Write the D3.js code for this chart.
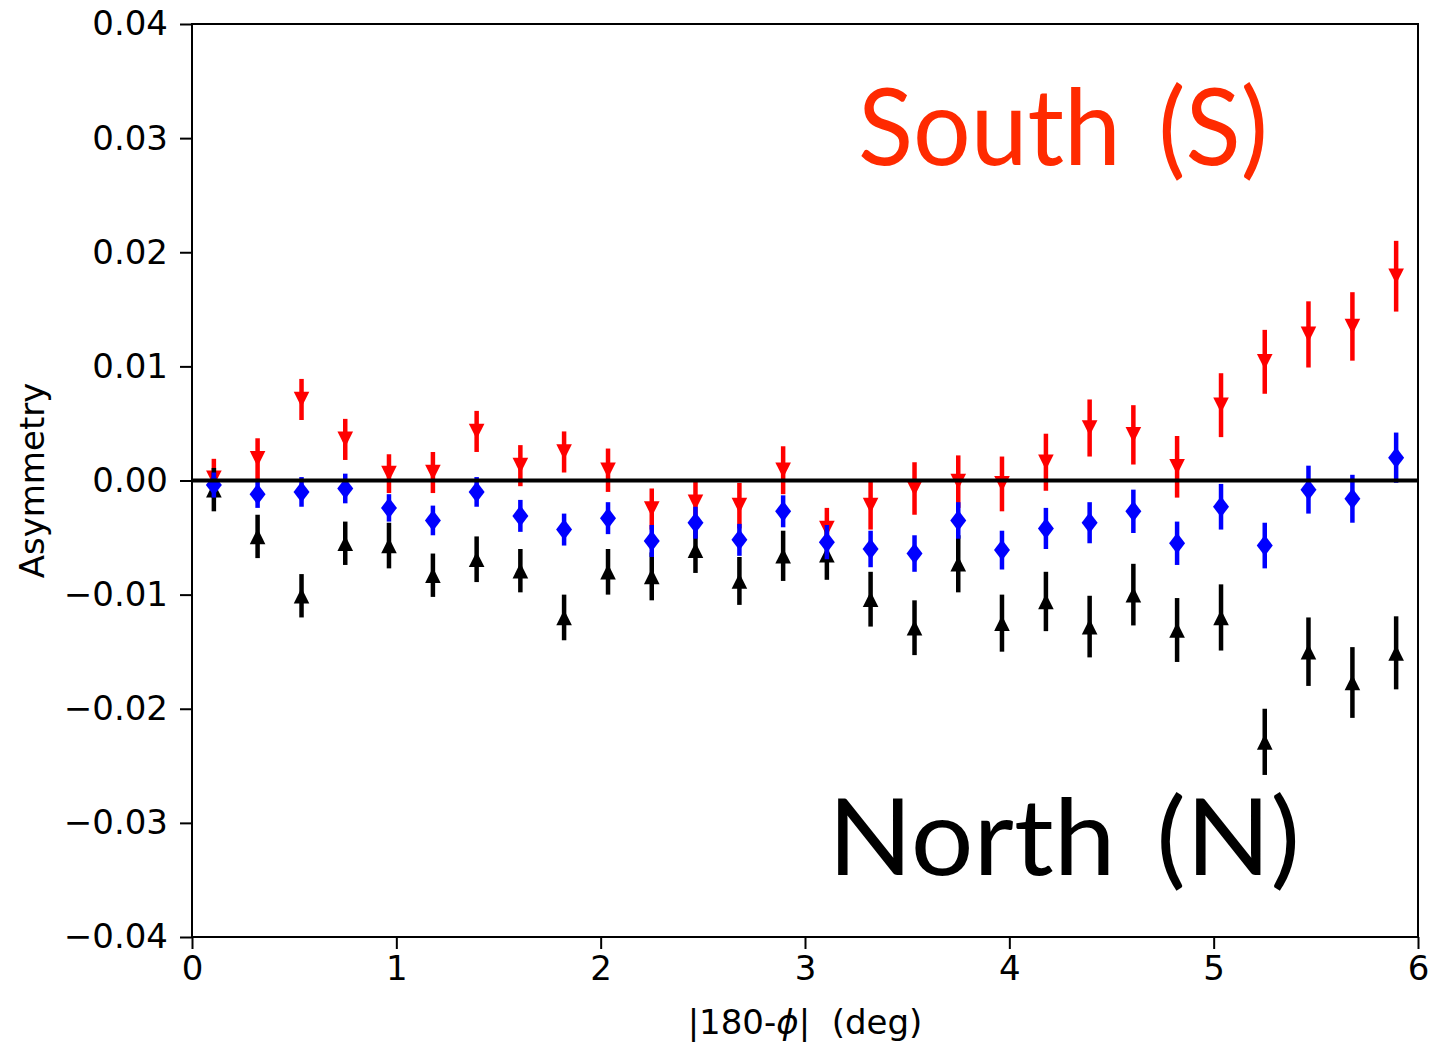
<!DOCTYPE html>
<html>
<head>
<meta charset="utf-8">
<script src="https://cdn.jsdelivr.net/npm/d3@7"></script>
<style>
  body { margin: 0; background: #fff; }
  svg { display: block; }
</style>
</head>
<body>
<div class="chart"></div>
<script>
// bin centres |180-phi| (deg)
var xValues = [0.107, 0.321, 0.536, 0.750, 0.964, 1.179, 1.393, 1.607, 1.821, 2.036,
  2.250, 2.464, 2.679, 2.893, 3.107, 3.321, 3.536, 3.750, 3.964, 4.179,
  4.393, 4.607, 4.821, 5.036, 5.250, 5.464, 5.679, 5.893];

// South (red, down triangles)
var southValues = [0.0002, 0.0019, 0.0071, 0.0036, 0.0006, 0.0007, 0.0043, 0.0013, 0.0025, 0.0009,
  -0.0025, -0.0019, -0.0022, 0.0009, -0.0042, -0.0022, -0.0007, -0.0001, -0.0003, 0.0016,
  0.0046, 0.0040, 0.0012, 0.0066, 0.0104, 0.0128, 0.0135, 0.0179];
var southErrors = [0.0017, 0.0018, 0.0018, 0.0018, 0.0017, 0.0018, 0.0018, 0.0018, 0.0018, 0.0019,
  0.0018, 0.0019, 0.0020, 0.0021, 0.0018, 0.0021, 0.0023, 0.0023, 0.0024, 0.0025,
  0.0025, 0.0026, 0.0027, 0.0028, 0.0028, 0.0029, 0.0030, 0.0031];

// North (black, up triangles)
var northValues = [-0.0008, -0.0049, -0.0101, -0.0055, -0.0057, -0.0083, -0.0069, -0.0079, -0.0120, -0.0080,
  -0.0084, -0.0061, -0.0088, -0.0066, -0.0065, -0.0104, -0.0129, -0.0073, -0.0125, -0.0106,
  -0.0128, -0.0100, -0.0131, -0.0120, -0.0229, -0.0150, -0.0177, -0.0151];
var northErrors = [0.0019, 0.0019, 0.0019, 0.0019, 0.0020, 0.0019, 0.0020, 0.0019, 0.0020, 0.0020,
  0.0021, 0.0020, 0.0021, 0.0022, 0.0022, 0.0024, 0.0024, 0.0025, 0.0025, 0.0026,
  0.0027, 0.0027, 0.0028, 0.0029, 0.0029, 0.0030, 0.0031, 0.0032];

// combined (blue diamonds)
var blueValues = [-0.0004, -0.0012, -0.0010, -0.0007, -0.0024, -0.0035, -0.0010, -0.0031, -0.0043, -0.0033,
  -0.0053, -0.0037, -0.0052, -0.0027, -0.0054, -0.0060, -0.0064, -0.0035, -0.0061, -0.0042,
  -0.0037, -0.0027, -0.0055, -0.0023, -0.0057, -0.0008, -0.0016, 0.0020];
var blueErrors = [0.0011, 0.0012, 0.0013, 0.0013, 0.0012, 0.0013, 0.0013, 0.0014, 0.0014, 0.0014,
  0.0014, 0.0014, 0.0014, 0.0014, 0.0015, 0.0016, 0.0016, 0.0016, 0.0017, 0.0018,
  0.0018, 0.0019, 0.0019, 0.0020, 0.0020, 0.0021, 0.0021, 0.0022];

var xTicks = [0, 1, 2, 3, 4, 5, 6];
var yTicks = [-0.04, -0.03, -0.02, -0.01, 0.00, 0.01, 0.02, 0.03, 0.04];

var svgWidth = 1430;
var svgHeight = 1044;

var margin = { top: 24, right: 12, bottom: 107, left: 192 };
var chartWidth = svgWidth - margin.left - margin.right;
var chartHeight = svgHeight - margin.top - margin.bottom;

var svg = d3.select(".chart")
  .append("svg")
  .attr("width", svgWidth)
  .attr("height", svgHeight);

var chartGroup = svg.append("g")
  .attr("transform", `translate(${margin.left}, ${margin.top})`);

var xScale = d3.scaleLinear().domain([0, 6]).range([0, chartWidth]);
var yScale = d3.scaleLinear().domain([-0.04, 0.04]).range([chartHeight, 0]);

var fontFamily = "'DejaVu Sans', sans-serif";
var fontSize = "34px";

// axes
var bottomAxis = d3.axisBottom(xScale).tickValues(xTicks).tickFormat(d3.format("d"))
  .tickSize(12).tickSizeOuter(0).tickPadding(7);
var leftAxis = d3.axisLeft(yScale).tickValues(yTicks).tickFormat(d3.format(".2f"))
  .tickSize(12).tickSizeOuter(0).tickPadding(12);

var gx = chartGroup.append("g")
  .attr("transform", `translate(0, ${chartHeight})`)
  .call(bottomAxis);
var gy = chartGroup.append("g").call(leftAxis);

[gx, gy].forEach(function(g) {
  g.select(".domain").remove();
  g.selectAll(".tick line").attr("stroke", "#000").attr("stroke-width", 2);
  g.selectAll(".tick text").attr("fill", "#000")
    .style("font-family", fontFamily).style("font-size", fontSize);
});

// frame
chartGroup.append("rect")
  .attr("width", chartWidth).attr("height", chartHeight)
  .attr("fill", "none").attr("stroke", "#000").attr("stroke-width", 2);

function drawSeries(values, errors, color, shape) {
  var g = chartGroup.append("g");
  var rows = values.map(function(v, i) { return { x: xValues[i], y: v, e: errors[i] }; });
  g.selectAll("line.err").data(rows).enter().append("line")
    .attr("x1", d => xScale(d.x)).attr("x2", d => xScale(d.x))
    .attr("y1", d => yScale(d.y + d.e)).attr("y2", d => yScale(d.y - d.e))
    .attr("stroke", color).attr("stroke-width", 4.5);
  g.selectAll("path.mk").data(rows).enter().append("path")
    .attr("transform", d => `translate(${xScale(d.x)}, ${yScale(d.y)})`)
    .attr("d", shape)
    .attr("fill", color);
}

var downTri = "M-7.8,-7.8L7.8,-7.8L0,7.8Z";
var upTri = "M-7.8,7.8L7.8,7.8L0,-7.8Z";
var diamond = "M0,-10.5L8,0L0,10.5L-8,0Z";

drawSeries(southValues, southErrors, "#ff0000", downTri);
drawSeries(northValues, northErrors, "#000000", upTri);
drawSeries(blueValues, blueErrors, "#0000ff", diamond);

// zero line
chartGroup.append("line")
  .attr("x1", 0).attr("x2", chartWidth)
  .attr("y1", yScale(0)).attr("y2", yScale(0))
  .attr("stroke", "#000").attr("stroke-width", 4);

// axis labels
svg.append("text")
  .attr("x", margin.left + chartWidth / 2).attr("y", 1034)
  .attr("text-anchor", "middle")
  .style("font-family", fontFamily).style("font-size", fontSize)
  .html("|180-<tspan font-style='italic'>ϕ</tspan>|&#160;&#160;(deg)");

svg.append("text")
  .attr("transform", `translate(44, ${margin.top + chartHeight / 2}) rotate(-90)`)
  .attr("text-anchor", "middle")
  .style("font-family", fontFamily).style("font-size", fontSize)
  .text("Asymmetry");

// annotations
svg.append("text")
  .attr("x", 858).attr("y", 165)
  .attr("fill", "#ff2a00")
  .attr("textLength", 410).attr("lengthAdjust", "spacingAndGlyphs")
  .style("font-family", "Lato, sans-serif").style("font-size", "106px")
  .style("word-spacing", "12px")
  .text("South (S)");

svg.append("text")
  .attr("x", 828).attr("y", 875)
  .attr("fill", "#000")
  .attr("textLength", 472).attr("lengthAdjust", "spacingAndGlyphs")
  .style("font-family", "Lato, sans-serif").style("font-size", "106px")
  .style("word-spacing", "12px")
  .text("North (N)");
</script>
</body>
</html>
